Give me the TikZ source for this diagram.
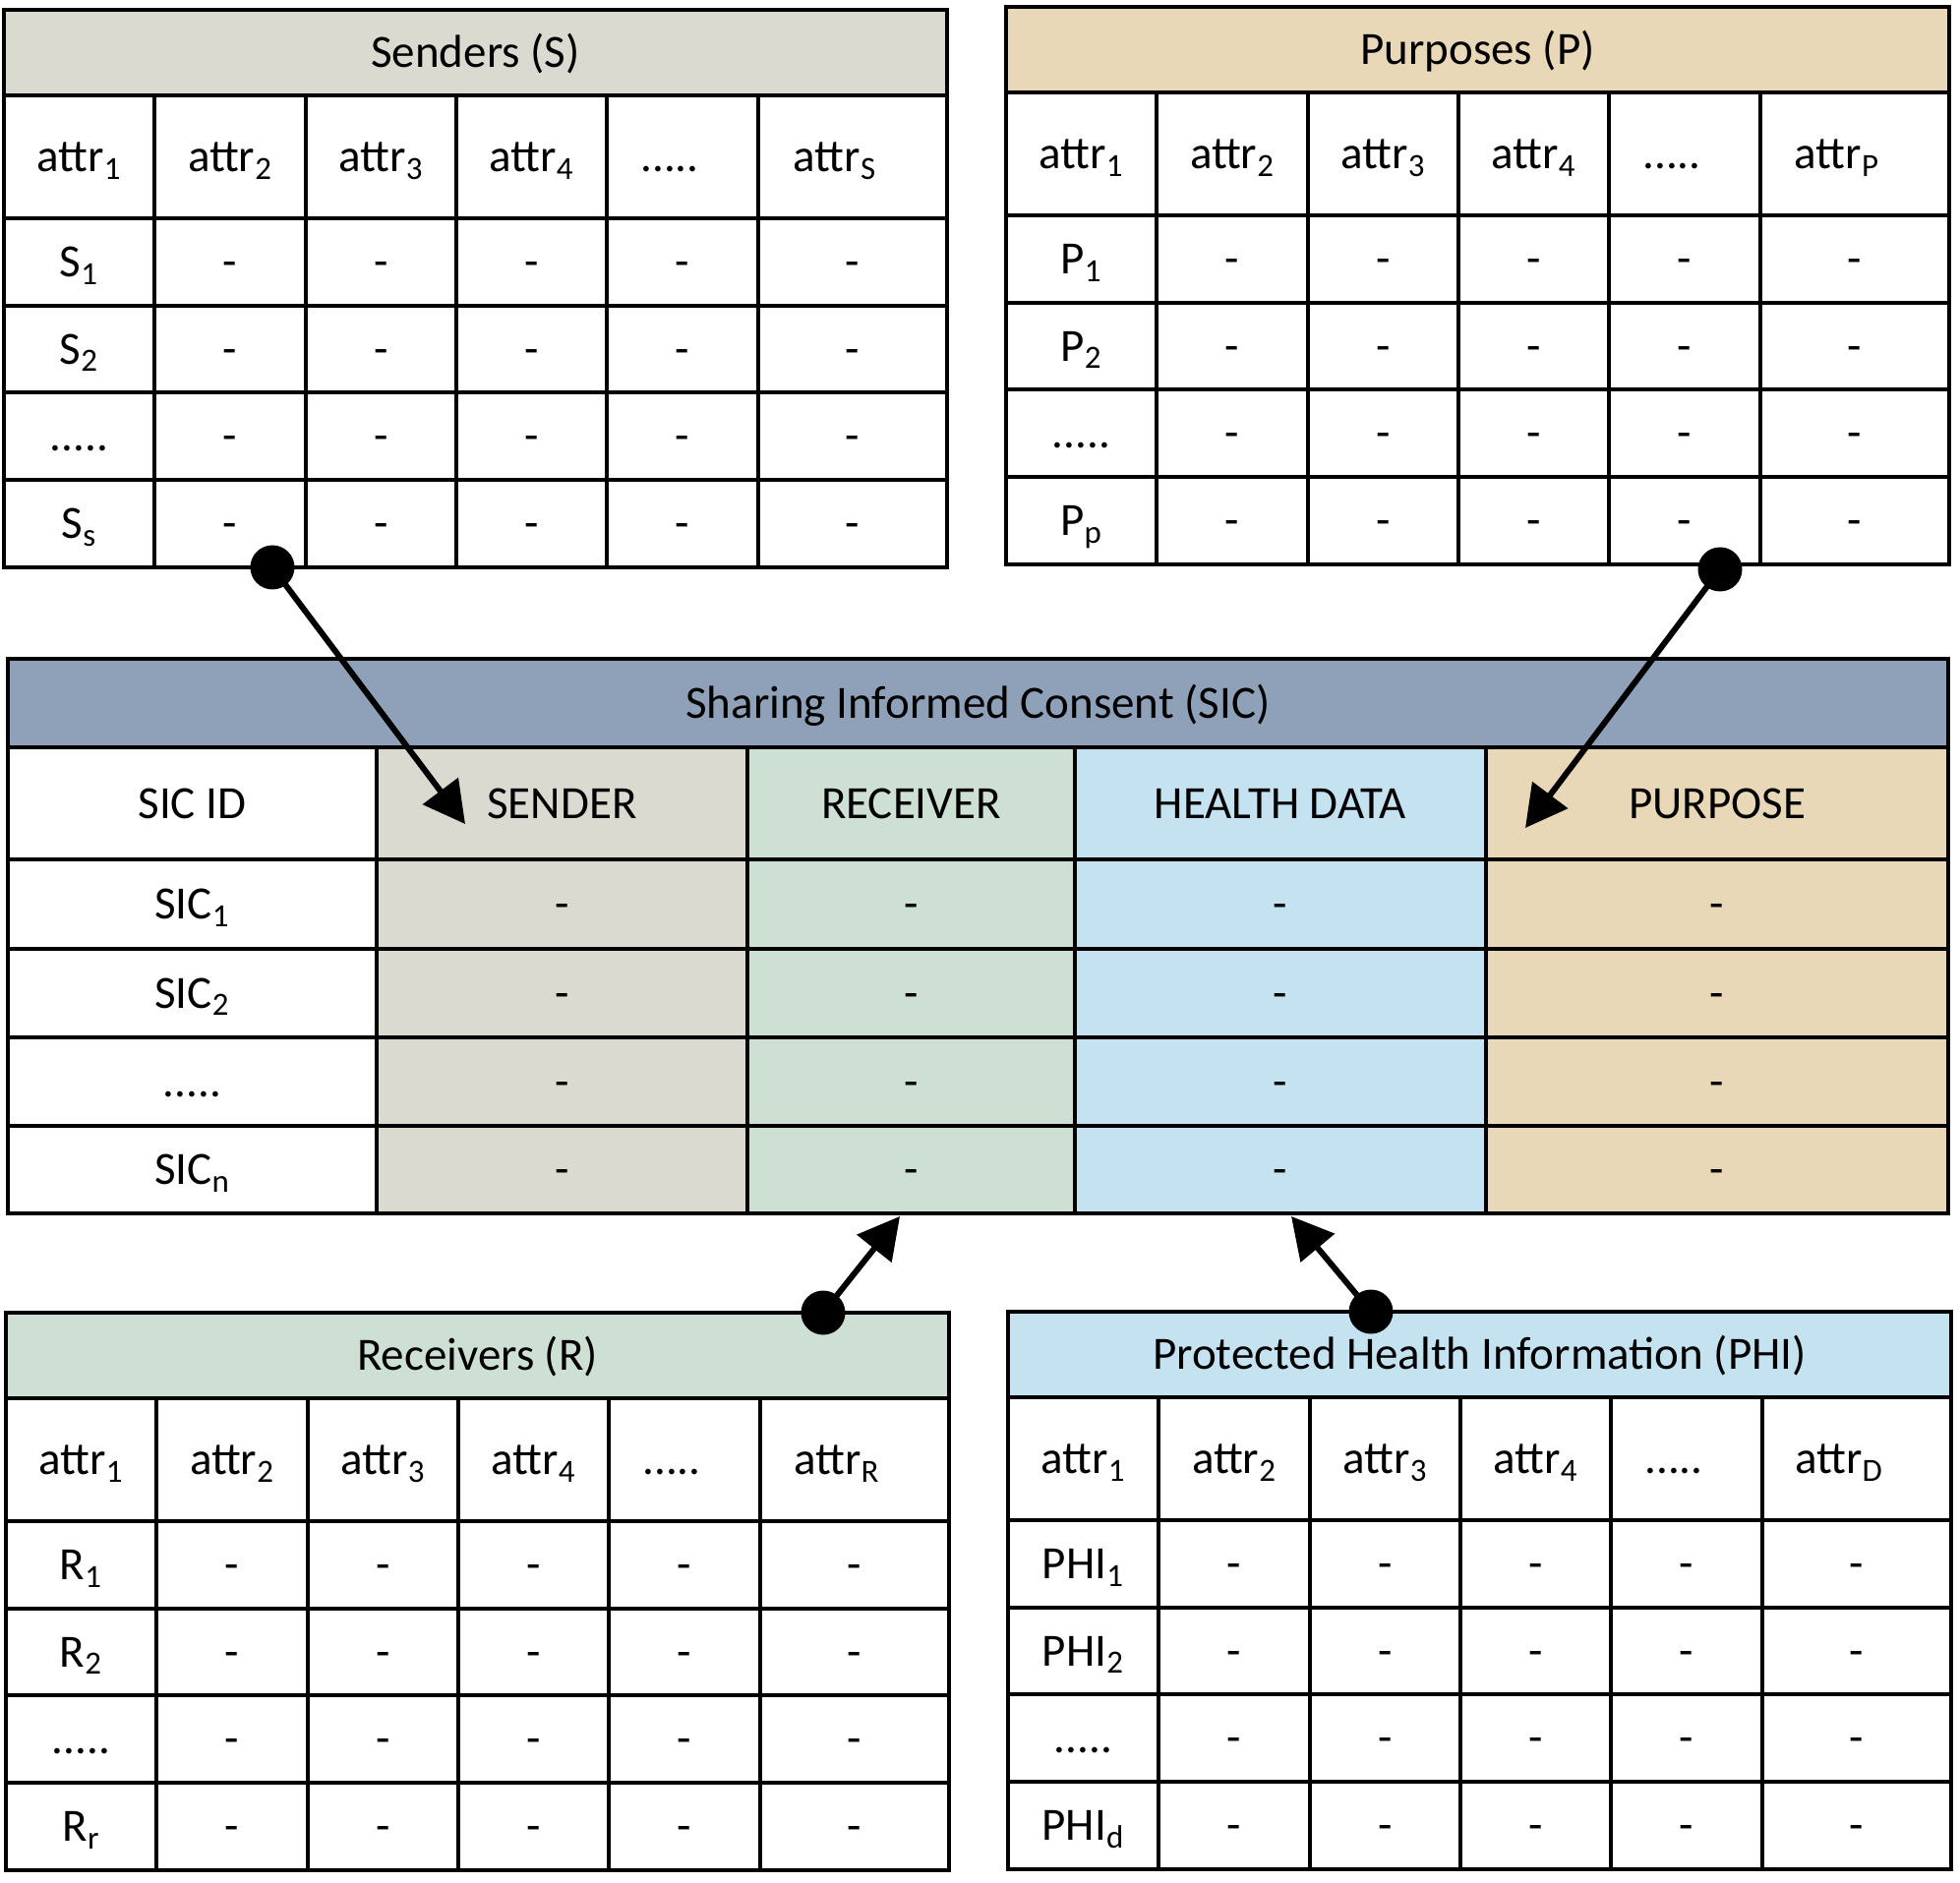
\documentclass[tikz,border=0pt]{standalone}
\usepackage{fontspec}
\setmainfont{Carlito}
\usetikzlibrary{arrows.meta}
\definecolor{sendc}{HTML}{DADAD0}
\definecolor{purpc}{HTML}{E9D8B8}
\definecolor{sicc}{HTML}{8FA1B8}
\definecolor{recc}{HTML}{CDE0D3}
\definecolor{phic}{HTML}{C5E2F0}
\newcommand{\fivedots}{.....}
\tikzset{
  txt/.style={font=\fontsize{23.5}{28}\selectfont, inner sep=0pt, text height=15.1pt, text depth=0pt, anchor=center},
  gridln/.style={line width=2pt, draw=black},
  conn/.style={line width=3pt, -{Triangle[length=21pt,width=22pt]}},
  dotn/.style={circle, fill=black, minimum size=22.5pt, inner sep=0pt}
}
% #1 prefix, #2 x0, #3 y0, #4 fill, #5 title, #6 last attr subscript, #7 row base, #8 last row subscript
\newcommand{\sattable}[8]{%
\begin{scope}[shift={(#2,#3)}]
  \fill[#4] (0,0) rectangle (959,87);
  \fill[white] (0,87) rectangle (959,567);
  \node[txt] (#1-title) at (479.5,43.5) {#5};
  \foreach \c/\lab [count=\k] in {76.5/{attr\textsubscript{1}}, 230/{attr\textsubscript{2}}, 383.5/{attr\textsubscript{3}}, 536.5/{attr\textsubscript{4}}, 677/{\fivedots}, 845/{attr\textsubscript{#6}}}
    \node[txt] (#1-h\k) at (\c,149.5) {\lab};
  \foreach \r/\lab [count=\k] in {256.5/{#7\textsubscript{1}}, 345/{#7\textsubscript{2}}, 433.5/{\fivedots}, 522.5/{#7\textsubscript{#8}}}
    \node[txt] (#1-r\k) at (76.5,\r) {\lab};
  \foreach \r [count=\k] in {256.5,345,433.5,522.5}
    \foreach \c [count=\j] in {230,383.5,536.5,690,863}
      \node[txt] (#1-d\k-\j) at (\c,\r) {-};
  \foreach \y in {87,212,301,389,478}
    \draw[gridln] (0,\y) -- (959,\y);
  \foreach \x in {153,307,460,613,767}
    \draw[gridln] (\x,87) -- (\x,567);
  \draw[gridln] (0,0) rectangle (959,567);
\end{scope}}
\begin{document}
\begin{tikzpicture}[x=0.5pt, y=-0.5pt]
\useasboundingbox (0,0) rectangle (1993,1915);
\fill[white] (0,0) rectangle (1993,1915);

\sattable{snd}{4}{10}{sendc}{Senders (S)}{S}{S}{s}
\sattable{pur}{1023}{7}{purpc}{Purposes (P)}{P}{P}{p}
\sattable{rec}{6}{1335}{recc}{Receivers (R)}{R}{R}{r}
\sattable{phi}{1025}{1334}{phic}{Protected Health Information (PHI)}{D}{PHI}{d}

% SIC table
\fill[sicc] (8,670) rectangle (1981,760);
\fill[white] (8,760) rectangle (383,1234);
\fill[sendc] (383,760) rectangle (760,1234);
\fill[recc] (760,760) rectangle (1093,1234);
\fill[phic] (1093,760) rectangle (1511,1234);
\fill[purpc] (1511,760) rectangle (1981,1234);
\foreach \y in {760,874,965,1055,1145}
  \draw[gridln] (8,\y) -- (1981,\y);
\foreach \x in {383,760,1093,1511}
  \draw[gridln] (\x,760) -- (\x,1234);
\draw[gridln] (8,670) rectangle (1981,1234);

\node[txt] (sic-title) at (994.5,715) {Sharing Informed Consent (SIC)};
\foreach \c/\lab [count=\k] in {195.5/{SIC ID}, 571.5/{SENDER}, 926.5/{RECEIVER}, 1302/{HEALTH DATA}, 1746/{PURPOSE}}
  \node[txt] (sic-h\k) at (\c,817) {\lab};
\foreach \r/\lab [count=\k] in {919.5/{SIC\textsubscript{1}}, 1010/{SIC\textsubscript{2}}, 1100/{\fivedots}, 1189.5/{SIC\textsubscript{n}}}
  \node[txt] (sic-r\k) at (195.5,\r) {\lab};
\foreach \r [count=\k] in {919.5,1010,1100,1189.5}
  \foreach \c [count=\j] in {571.5,926.5,1302,1746}
    \node[txt] (sic-d\k-\j) at (\c,\r) {-};

% connectors
\node[dotn] (sdot) at (277,577) {};
\coordinate (stip) at (473,838);
\draw[conn] (sdot.center) -- (stip);

\node[dotn] (pdot) at (1749,579) {};
\coordinate (ptip) at (1551,842);
\draw[conn] (pdot.center) -- (ptip);

\node[dotn] (rdot) at (837,1335) {};
\coordinate (rtip) at (915,1237);
\draw[conn] (rdot.center) -- (rtip);

\node[dotn] (hdot) at (1394,1334) {};
\coordinate (htip) at (1313,1237);
\draw[conn] (hdot.center) -- (htip);
\end{tikzpicture}
\end{document}
